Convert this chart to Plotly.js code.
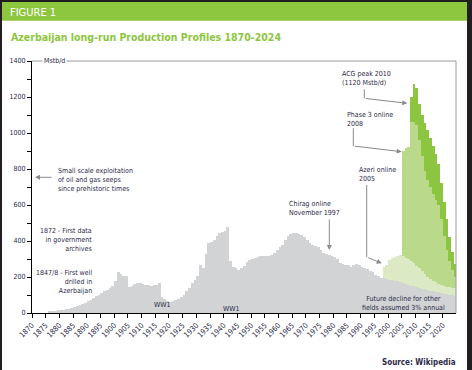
<!DOCTYPE html>
<html><head><meta charset="utf-8">
<script src="https://cdn.plot.ly/plotly-3.0.1.min.js"></script>
<style>
html,body{margin:0;padding:0;background:#231f20;width:472px;height:370px;overflow:hidden;}
#chart{position:absolute;left:2px;top:2px;width:465px;height:368px;background:#fff;}
</style></head><body><div id="chart"></div>
<script>
// ---- data (Mstb/d), one value per year ----
const otherFieldsStart = 1876;
const otherFields = [
  12, 12, 13, 14, 16, 18, 20, 23, 28, 33,
  38, 42, 50, 57, 64, 74, 82, 92, 100, 110,
  120, 130, 140, 152, 176, 226, 216, 206, 208, 146,
  152, 162, 168, 168, 162, 158, 156, 150, 154, 158,
  164, 88, 78, 66, 60, 64, 72, 78, 88, 100,
  122, 140, 165, 185, 205, 268, 248, 330, 390, 392,
  408, 426, 442, 448, 454, 478, 290, 258, 250, 240,
  248, 262, 284, 296, 300, 308, 312, 316, 318, 314,
  318, 324, 334, 352, 366, 380, 404, 426, 440, 444,
  444, 440, 432, 420, 404, 390, 380, 374, 366, 352,
  336, 330, 322, 318, 310, 300, 276, 272, 268, 266,
  256, 264, 270, 268, 258, 252, 242, 236, 228, 212,
  206, 196, 192, 189, 185, 182, 179, 176, 172, 167,
  162, 157, 152, 148, 144, 140, 136, 132, 128, 124,
  120, 117, 114, 111, 108, 105, 102, 99, 96
];
const chiragStart = 1998;
const chirag = [63, 79, 110, 123, 131, 139, 148, 148, 144, 141, 138, 128, 118, 108, 98, 86, 72, 66, 58, 53, 48, 45, 42, 41, 40, 41, 42];
const azeriStart = 2005;
const azeri = [585, 609, 622, 773, 787, 782, 712, 636, 572, 540, 510, 482, 460, 438, 364, 280, 204, 148, 100, 62];
const phase3Start = 2008;
const phase3 = [137, 207, 206, 200, 230, 265, 275, 270, 270, 255, 230, 200, 185, 170, 130, 100, 70];

const xTickStart = 1870, xTickStep = 5;
const yTicks = [0, 200, 400, 600, 800, 1000, 1200, 1400];

function yearsFrom(start, n){ const a=[]; for(let i=0;i<n;i++) a.push(start+i); return a; }

const FONT = "'Liberation Sans Narrow', 'Arial Narrow', 'DejaVu Sans Condensed', sans-serif";
const TXT = '#2c2a4a';
const ARROW = '#8a8a8a';
const AS = 7;

function layer(start, vals, color){
  return {type:'bar', x: yearsFrom(start, vals.length), y: vals, width: 1, offset: 0,
    marker:{color: color, line:{width:0}}, hoverinfo:'skip', showlegend:false};
}
const data = [
  layer(otherFieldsStart, otherFields, '#d1d3d4'),
  layer(chiragStart, chirag, '#dbeac5'),
  layer(azeriStart, azeri, '#bad98a'),
  layer(phase3Start, phase3, '#8cc540')
];

function txt(text, x, y, xa, align, extra){
  return Object.assign({text:text, x:x, y:y, xref:'paper', yref:'paper', xanchor:xa, yanchor:'middle',
    align:align, showarrow:false, font:{family:FONT, size:AS, color:TXT}}, extra||{});
}
function arrow(x, y, ax, ay){
  return {text:'', x:x, y:y, xref:'paper', yref:'paper', ax:ax, ay:ay, showarrow:true,
    arrowhead:2, arrowsize:1, arrowwidth:1, arrowcolor:ARROW};
}
function seg(x0,y0,x1,y1){
  return {type:'line', xref:'paper', yref:'paper', x0:x0, y0:y0, x1:x1, y1:y1, line:{color:ARROW, width:1}};
}

const annotations = [
  {text:'FIGURE 1', x:-0.0555, y:1.1913, xref:'paper', yref:'paper', xanchor:'left', yanchor:'middle', showarrow:false,
   font:{family:FONT, size:11, color:'#ffffff'}},
  {text:'<b>Azerbaijan long-run Production Profiles 1870-2024</b>', x:-0.0545, y:1.0972, xref:'paper', yref:'paper',
   xanchor:'left', yanchor:'middle', showarrow:false, font:{family:FONT, size:10.5, color:'#8dc63f'}},
  {text:'Mstb/d', x:0.0247, y:1.0, xref:'paper', yref:'paper', xanchor:'left', yanchor:'middle', showarrow:false,
   bgcolor:'#ffffff', borderpad:1, font:{family:FONT, size:AS, color:TXT}},
  txt('Small scale exploitation<br>of oil and gas seeps<br>since prehistoric times', 0.0563, 0.5266, 'left', 'left'),
  txt('1872 - First data<br>in government<br>archives', 0.1452, 0.2897, 'right', 'right'),
  txt('1847/8 - First well<br>drilled in<br>Azerbaijan', 0.1452, 0.123, 'right', 'right'),
  txt('WW1', 0.3066, 0.0317, 'center', 'center'),
  txt('WW1', 0.4682, 0.0159, 'center', 'center'),
  txt('Chirag online<br>November 1997', 0.6018, 0.4155, 'left', 'left'),
  txt('Azeri online<br>2005', 0.7676, 0.5496, 'left', 'left'),
  txt('Phase 3 online<br>2008', 0.7386, 0.7698, 'left', 'left'),
  txt('ACG peak 2010<br>(1120 Mstb/d)', 0.726, 0.9286, 'left', 'left'),
  txt('Future decline for other<br>fields assumed 3% annual', 0.8757, 0.0369, 'center', 'center'),
  txt('<b>Source: Wikipedia</b>', 1.0037, -0.1956, 'right', 'right', {font:{family:FONT, size:8, color:TXT}}),
  arrow(0.0071, 0.5385, 18, 0),
  arrow(0.7012, 0.25, 0, -32),
  arrow(0.8248, 0.1972, -15, -6.3),
  arrow(0.8719, 0.6401, -48.4, -5.7),
  arrow(0.8851, 0.8321, -43, -5)
];

const shapes = [
  {type:'rect', xref:'paper', yref:'paper', x0:-0.0708, x1:1.0259, y0:1.16, y1:1.2341, fillcolor:'#8dc63f', line:{width:0}, layer:'below'},
  {type:'line', xref:'paper', yref:'paper', x0:0, x1:1, y0:1, y1:1, line:{color:'#9a9a9a', width:1}},
  {type:'line', xref:'paper', yref:'paper', x0:1, x1:1, y0:0, y1:1, line:{color:'#9a9a9a', width:1}},
  seg(0.7894, 0.5079, 0.7894, 0.2222),
  seg(0.7578, 0.7329, 0.7578, 0.6627),
  seg(0.7837, 0.8877, 0.7837, 0.852)
];

const layout = {
  width:465, height:368,
  margin:{l:30, r:11, t:59, b:57, pad:0},
  paper_bgcolor:'#ffffff', plot_bgcolor:'rgba(0,0,0,0)',
  barmode:'stack', bargap:0, showlegend:false,
  font:{family:FONT, color:TXT, size:7},
  xaxis:{range:[1870, 2024.8], tickmode:'linear', tick0:xTickStart, dtick:xTickStep, tickangle:-45,
    ticks:'outside', ticklen:4, tickcolor:'#000', showline:true, linecolor:'#000', linewidth:1,
    showgrid:false, zeroline:false, tickfont:{family:FONT, size:7.5, color:TXT}, fixedrange:true},
  yaxis:{range:[0, 1400], tickvals:yTicks, ticks:'outside', ticklen:4, tickcolor:'#000', showline:true,
    linecolor:'#000', linewidth:1, showgrid:false, zeroline:false,
    minor:{dtick:100, ticks:'outside', ticklen:4, tickcolor:'#000'},
    tickfont:{family:FONT, size:7, color:TXT}, fixedrange:true},
  annotations:annotations, shapes:shapes
};

Plotly.newPlot('chart', data, layout, {staticPlot:true, displayModeBar:false});
</script></body></html>
